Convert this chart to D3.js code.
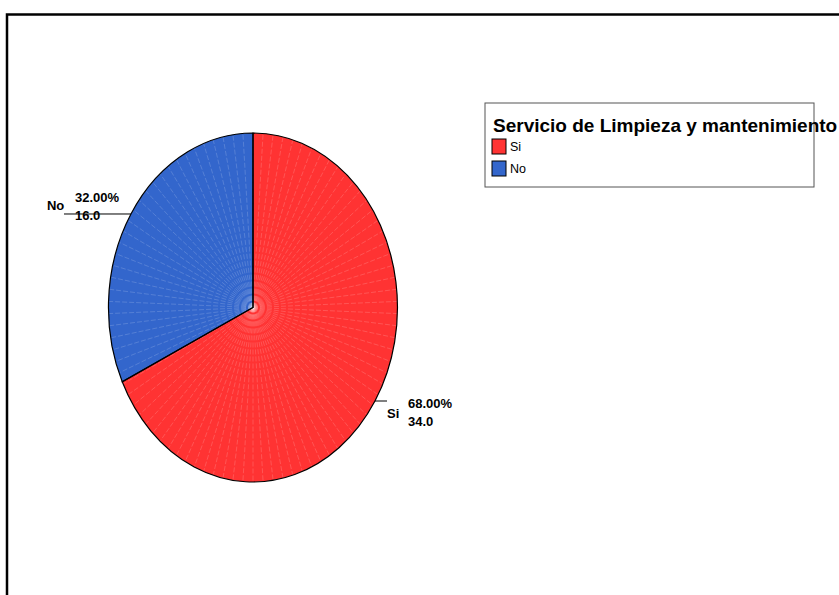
<!DOCTYPE html>
<html>
<head>
<meta charset="utf-8">
<script src="https://cdn.jsdelivr.net/npm/d3@7"></script>
<style>
  body { margin: 0; background: #fff; }
  text { font-family: "Liberation Sans", Arial, sans-serif; }
</style>
</head>
<body>
<svg id="chart" width="839" height="595"></svg>
<script>
// chart data
const categories = ['Si', 'No'];
const counts = [34, 16];
const percents = [68.0, 32.0];
const colors = ['#ff3333', '#3366cc'];
const legendTitle = 'Servicio de Limpieza y mantenimiento';

const svg = d3.select('#chart');

// outer frame (runs off the right and bottom edges)
svg.append('rect')
    .attr('x', 7).attr('y', 14.5)
    .attr('width', 900).attr('height', 700)
    .attr('fill', 'none')
    .attr('stroke', '#000')
    .attr('stroke-width', 2.5);

// pie is drawn on a unit circle and stretched into an ellipse
const cx = 253, cy = 307.5, rx = 144.5, ry = 174.5;
const sx = d3.scaleLinear().domain([-1, 1]).range([cx - rx, cx + rx]);
const sy = d3.scaleLinear().domain([-1, 1]).range([cy - ry, cy + ry]);

const pie = d3.pie().sort(null).value(d => d.count);
const data = categories.map((c, i) => ({ name: c, count: counts[i], pct: percents[i], color: colors[i] }));
const arcs = pie(data);
const arc = d3.arc().innerRadius(0).outerRadius(1);

const pieG = svg.append('g')
    .attr('transform', `translate(${cx},${cy}) scale(${rx},${ry})`);

pieG.selectAll('path.slice')
    .data(arcs)
    .enter().append('path')
    .attr('class', 'slice')
    .attr('d', arc)
    .attr('fill', d => d.data.color);

// faint radial hatch lines
const nHatch = 90;
pieG.selectAll('line.hatch')
    .data(d3.range(nHatch))
    .enter().append('line')
    .attr('class', 'hatch')
    .attr('x1', 0).attr('y1', 0)
    .attr('x2', i => Math.sin(i / nHatch * 2 * Math.PI))
    .attr('y2', i => -Math.cos(i / nHatch * 2 * Math.PI))
    .attr('stroke', '#fff')
    .attr('stroke-opacity', 0.28)
    .attr('stroke-width', 0.6)
    .attr('stroke-dasharray', '5,2')
    .attr('vector-effect', 'non-scaling-stroke');

// slice borders
pieG.selectAll('path.border')
    .data(arcs)
    .enter().append('path')
    .attr('class', 'border')
    .attr('d', arc)
    .attr('fill', 'none')
    .attr('stroke', '#000')
    .attr('stroke-width', 1.2)
    .attr('vector-effect', 'non-scaling-stroke');

// labels with leader lines
arcs.forEach(d => {
    const mid = (d.startAngle + d.endAngle) / 2;
    const ex = sx(Math.sin(mid));
    const ey = sy(-Math.cos(mid));
    const right = Math.sin(mid) > 0;
    const lx = right ? ex + 12 : ex - 67;

    svg.append('line')
        .attr('x1', ex).attr('y1', ey)
        .attr('x2', lx).attr('y2', ey)
        .attr('stroke', '#000')
        .attr('stroke-width', 1);

    const nameX = right ? lx : lx - 17;
    const nameY = right ? ey + 17 : ey - 4;
    const numX = right ? lx + 21 : lx + 11;
    const pctY = right ? ey + 7 : ey - 12;

    svg.append('text')
        .attr('x', nameX).attr('y', nameY)
        .attr('font-size', 13).attr('font-weight', 'bold')
        .text(d.data.name);
    svg.append('text')
        .attr('x', numX).attr('y', pctY)
        .attr('font-size', 13).attr('font-weight', 'bold')
        .text(d.data.pct.toFixed(2) + '%');
    svg.append('text')
        .attr('x', numX).attr('y', pctY + 18)
        .attr('font-size', 13).attr('font-weight', 'bold')
        .text(d.data.count.toFixed(1));
});

// legend
const legend = svg.append('g').attr('transform', 'translate(485,103)');
legend.append('rect')
    .attr('width', 329).attr('height', 84)
    .attr('fill', '#fff')
    .attr('stroke', '#555')
    .attr('stroke-width', 1);
legend.append('text')
    .attr('x', 8).attr('y', 29)
    .attr('font-size', 19).attr('font-weight', 'bold')
    .text(legendTitle);

const items = legend.selectAll('g.item')
    .data(data)
    .enter().append('g')
    .attr('class', 'item')
    .attr('transform', (d, i) => `translate(7,${36 + i * 22})`);
items.append('rect')
    .attr('width', 14).attr('height', 15)
    .attr('fill', d => d.color)
    .attr('stroke', '#000')
    .attr('stroke-width', 1);
items.append('text')
    .attr('x', 18).attr('y', 12)
    .attr('font-size', 12.5)
    .text(d => d.name);
</script>
</body>
</html>
